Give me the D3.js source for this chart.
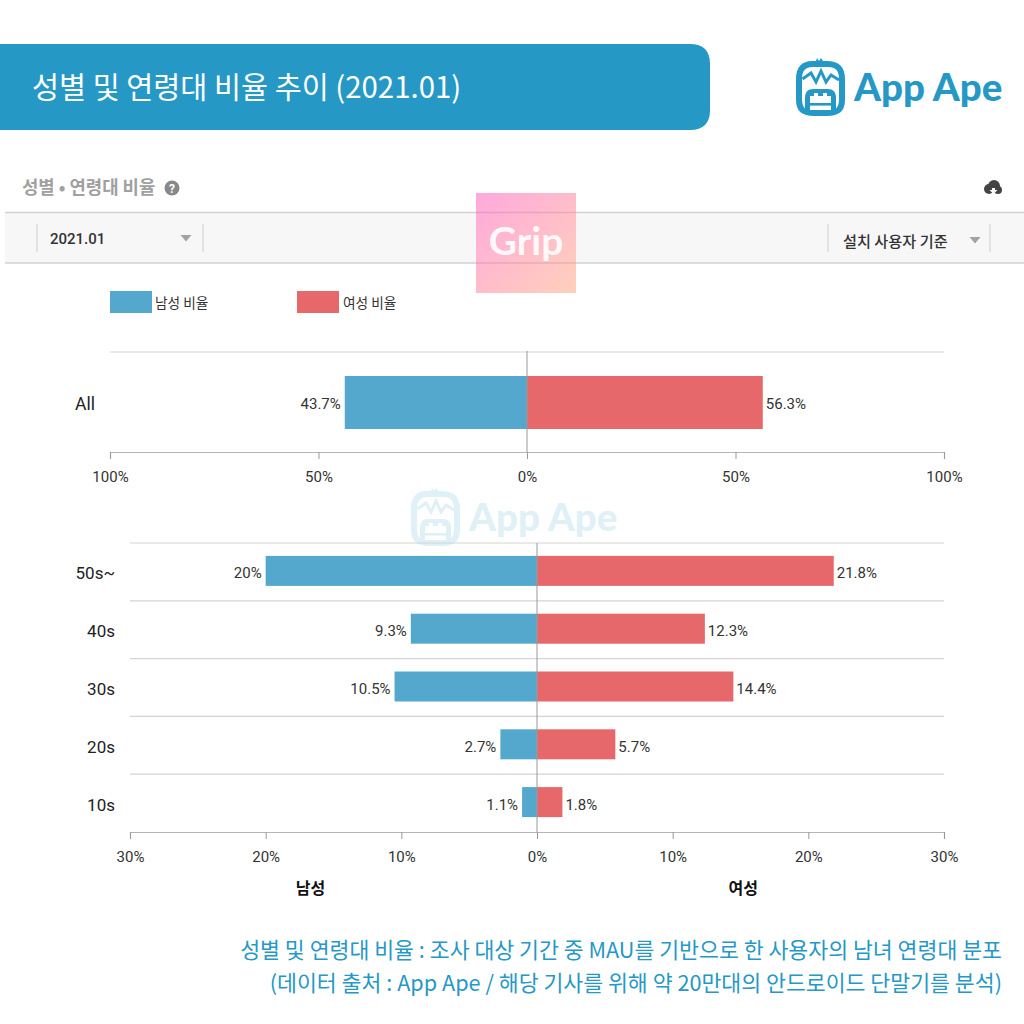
<!DOCTYPE html>
<html>
<head>
<meta charset="utf-8">
<script src="https://cdn.jsdelivr.net/npm/d3@7"></script>
<style>
html, body { margin: 0; padding: 0; background: #fff; }
svg { display: block; font-family: Roboto, "Noto Sans CJK KR", sans-serif; }
</style>
</head>
<body>
<svg id="chart" width="1024" height="1024"></svg>
<script>
const allGroups = ['All'];
const allMale = [43.7];
const allFemale = [56.3];
const allTicks = [-100, -50, 0, 50, 100];

const ageGroups = ['50s~', '40s', '30s', '20s', '10s'];
const ageMale = [20, 9.3, 10.5, 2.7, 1.1];
const ageFemale = [21.8, 12.3, 14.4, 5.7, 1.8];
const ageTicks = [-30, -20, -10, 0, 10, 20, 30];

const legendLabels = ['남성 비율', '여성 비율'];
const footnotes = [
    '성별 및 연령대 비율 : 조사 대상 기간 중 MAU를 기반으로 한 사용자의 남녀 연령대 분포',
    '(데이터 출처 : App Ape / 해당 기사를 위해 약 20만대의 안드로이드 단말기를 분석)'
];

const BLUE = '#55a8cd';
const RED = '#e7686b';
const BRAND = '#2598c6';
const KR = '"Noto Sans CJK KR", sans-serif';

const svg = d3.select('#chart');

const logo = (x, y, s, opacity) => {
    const g = svg.append('g')
        .attr('transform', `translate(${x},${y}) scale(${s})`)
        .attr('opacity', opacity);
    g.append('path')
        .attr('d', 'M16,3 L20,3 L21,0 L23,3 L25,0 L27,3 L31,3 C43,3 49,9 49,21 L49,42 C49,53 43,58 31,58 L18,58 C6,58 0,53 0,42 L0,21 C0,9 6,3 16,3 Z')
        .attr('fill', BRAND);
    g.append('path')
        .attr('d', 'M17,9 L32,9 C40,9 43,13 43,21 L43,41 C43,49 40,53 32,53 L17,53 C9,53 6,49 6,41 L6,21 C6,13 9,9 17,9 Z')
        .attr('fill', '#fff');
    g.append('path')
        .attr('d', 'M6.5,21 L15,15 L20,24 L25,13 L30,24 L35,17 L43,22')
        .attr('fill', 'none').attr('stroke', BRAND).attr('stroke-width', 3);
    g.append('path')
        .attr('d', 'M9,53 L9,40 C9,34 12,31 17,31 L32,31 C37,31 40,34 40,40 L40,53 Z')
        .attr('fill', BRAND);
    g.append('path')
        .attr('d', 'M14,52 L14,38 L18,38 L18,35 L22,35 L22,38 L27,38 L27,35 L31,35 L31,38 L35,38 L35,52 Z')
        .attr('fill', '#fff');
    g.append('rect').attr('x', 14).attr('y', 45).attr('width', 21).attr('height', 2.6).attr('fill', BRAND);
    g.append('text')
        .attr('x', 58).attr('y', 43)
        .attr('font-family', 'Lato, Roboto, sans-serif')
        .attr('font-weight', 900)
        .attr('font-size', 38.5)
        .attr('fill', BRAND)
        .text('App Ape');
};

// header banner
svg.append('path')
    .attr('d', 'M0,44 H690 Q710,44 710,64 V110 Q710,130 690,130 H0 Z')
    .attr('fill', '#2598c6');
svg.append('text')
    .attr('x', 32).attr('y', 97.5)
    .attr('font-family', KR)
    .attr('font-size', 29.4)
    .attr('fill', '#fff')
    .text('성별 및 연령대 비율 추이 (2021.01)');
logo(796, 58, 1, 1);

// panel header
svg.append('text')
    .attr('x', 22).attr('y', 194)
    .attr('font-family', KR).attr('font-size', 17.8).attr('font-weight', 700)
    .attr('fill', '#a0a0a0')
    .text('성별 • 연령대 비율');
svg.append('circle').attr('cx', 172).attr('cy', 188).attr('r', 7.5).attr('fill', '#888');
svg.append('text')
    .attr('x', 172).attr('y', 192.5).attr('text-anchor', 'middle')
    .attr('font-size', 12).attr('font-weight', 700).attr('fill', '#fff')
    .text('?');

// download icon
const dl = svg.append('g').attr('transform', 'translate(993,188)').attr('fill', '#444');
dl.append('circle').attr('cx', -4).attr('cy', 1).attr('r', 5);
dl.append('circle').attr('cx', 1).attr('cy', -2).attr('r', 6);
dl.append('circle').attr('cx', 5).attr('cy', 2).attr('r', 4);
dl.append('path').attr('d', 'M-1,0 H2 V2 H4.5 L0.5,6 L-3.5,2 H-1 Z').attr('fill', '#fff');

// toolbar
svg.append('rect').attr('x', 5).attr('y', 213).attr('width', 1019).attr('height', 50).attr('fill', '#f7f7f7');
[212.5, 263].forEach(y => {
    svg.append('line').attr('x1', 5).attr('x2', 1024).attr('y1', y).attr('y2', y)
        .attr('stroke', '#d2d2d2').attr('stroke-width', 1.4);
});
[37, 203, 828, 990].forEach(x => {
    svg.append('line').attr('x1', x).attr('x2', x).attr('y1', 224).attr('y2', 252)
        .attr('stroke', '#cfcfcf');
});
svg.append('text')
    .attr('x', 50).attr('y', 243.5)
    .attr('font-size', 15).attr('font-weight', 500).attr('fill', '#333')
    .text('2021.01');
svg.append('text')
    .attr('x', 843).attr('y', 246.5)
    .attr('font-family', KR).attr('font-size', 15.2).attr('font-weight', 500).attr('fill', '#333')
    .text('설치 사용자 기준');
[[186, 238], [975, 240]].forEach(([x, y]) => {
    svg.append('path')
        .attr('d', `M${x - 5.5},${y - 3} H${x + 5.5} L${x},${y + 3.5} Z`)
        .attr('fill', '#a3a3a3');
});

// Grip badge
const defs = svg.append('defs');
const grad = defs.append('linearGradient')
    .attr('id', 'gripGrad')
    .attr('x1', '0%').attr('y1', '0%').attr('x2', '100%').attr('y2', '100%');
grad.append('stop').attr('offset', '0%').attr('stop-color', '#ffa9dc');
grad.append('stop').attr('offset', '100%').attr('stop-color', '#ffd0bb');
svg.append('rect')
    .attr('x', 476).attr('y', 193).attr('width', 100).attr('height', 100)
    .attr('fill', 'url(#gripGrad)');
[212.5, 263].forEach(y => {
    svg.append('line').attr('x1', 476).attr('x2', 576).attr('y1', y).attr('y2', y)
        .attr('stroke', '#000').attr('stroke-opacity', 0.1).attr('stroke-width', 1.4);
});
svg.append('text')
    .attr('x', 526).attr('y', 255).attr('text-anchor', 'middle')
    .attr('font-family', 'Lato, sans-serif').attr('font-weight', 700)
    .attr('font-size', 39).attr('fill', '#fff').attr('fill-opacity', 0.92)
    .text('Grip');

// legend
[[110, BLUE, 155], [297, RED, 343]].forEach(([x, color, tx], i) => {
    svg.append('rect').attr('x', x).attr('y', 291).attr('width', 42).attr('height', 22).attr('fill', color);
    svg.append('text')
        .attr('x', tx).attr('y', 307.5)
        .attr('font-family', KR).attr('font-size', 13.7).attr('fill', '#333')
        .text(legendLabels[i]);
});

// watermark
logo(411, 488, 1, 0.14);

const pyramid = (cfg) => {
    const { groups, male, female, ticks, x0, x1, rows, barH, zeroExtent, labelSize } = cfg;
    const x = d3.scaleLinear().domain(cfg.domain).range([x0, x1]);
    const y = d3.scaleBand().domain(groups).range(rows);
    const g = svg.append('g');

    // row separators
    const seps = groups.slice(0, -1).map(d => y(d) + y.step()).concat(rows[0]);
    g.selectAll('line.sep').data(seps).enter().append('line')
        .attr('class', 'sep')
        .attr('x1', x0).attr('x2', x1)
        .attr('y1', d => d).attr('y2', d => d)
        .attr('stroke', '#d4d4d4').attr('stroke-width', 1.2);

    const barY = d => y(d) + (y.step() - barH) / 2 + (cfg.barDy || 0);
    g.selectAll('rect.male').data(groups).enter().append('rect')
        .attr('class', 'male')
        .attr('x', (d, i) => x(-male[i]))
        .attr('y', barY)
        .attr('width', (d, i) => x(0) - x(-male[i]))
        .attr('height', barH)
        .attr('fill', BLUE);
    g.selectAll('rect.female').data(groups).enter().append('rect')
        .attr('class', 'female')
        .attr('x', x(0))
        .attr('y', barY)
        .attr('width', (d, i) => x(female[i]) - x(0) + 1)
        .attr('height', barH)
        .attr('fill', RED);

    // zero line
    g.append('line')
        .attr('x1', x(0)).attr('x2', x(0))
        .attr('y1', zeroExtent[0]).attr('y2', rows[1])
        .attr('stroke', '#999').attr('stroke-width', 1);

    // value labels
    const valueY = d => y(d) + y.step() / 2 + 6.5;
    g.selectAll('text.mv').data(groups).enter().append('text')
        .attr('class', 'mv')
        .attr('x', (d, i) => x(-male[i]) - 4)
        .attr('y', valueY)
        .attr('text-anchor', 'end')
        .attr('font-size', 15).attr('fill', '#333')
        .text((d, i) => male[i] + '%');
    g.selectAll('text.fv').data(groups).enter().append('text')
        .attr('class', 'fv')
        .attr('x', (d, i) => x(female[i]) + 4)
        .attr('y', valueY)
        .attr('font-size', 15).attr('fill', '#333')
        .text((d, i) => female[i] + '%');

    // category labels
    g.selectAll('text.cat').data(groups).enter().append('text')
        .attr('class', 'cat')
        .attr('x', cfg.labelX)
        .attr('y', d => y(d) + y.step() / 2 + 7.5)
        .attr('text-anchor', 'end')
        .attr('font-size', labelSize).attr('fill', '#222')
        .text(d => d);

    // x axis
    const axis = d3.axisBottom(x)
        .tickValues(ticks)
        .tickSize(7)
        .tickPadding(12.5)
        .tickFormat(d => Math.abs(d) + '%');
    const ax = svg.append('g')
        .attr('transform', `translate(0,${rows[1]})`)
        .call(axis);
    ax.select('.domain').attr('stroke', '#b5b5b5').attr('stroke-width', 1.2);
    ax.selectAll('.tick line').attr('stroke', '#999');
    ax.selectAll('.tick text')
        .attr('font-family', 'Roboto, sans-serif')
        .attr('font-size', 15)
        .attr('fill', '#333');
    return x;
};

pyramid({
    groups: allGroups, male: allMale, female: allFemale, ticks: allTicks,
    domain: [-100, 100], x0: 110, x1: 944, rows: [352, 452], barH: 53, barDy: 0.5,
    zeroExtent: [351, 452], labelX: 95, labelSize: 17.5
});

const xAge = pyramid({
    groups: ageGroups, male: ageMale, female: ageFemale, ticks: ageTicks,
    domain: [-30, 30], x0: 130, x1: 944, rows: [543, 832], barH: 30, barDy: -1,
    zeroExtent: [543, 832], labelX: 115, labelSize: 17
});

// side captions
[[-16.7, '남성'], [15.2, '여성']].forEach(([v, t]) => {
    svg.append('text')
        .attr('x', xAge(v)).attr('y', 894)
        .attr('text-anchor', 'middle')
        .attr('font-family', KR).attr('font-size', 16).attr('font-weight', 700).attr('fill', '#111')
        .text(t);
});

// footnotes
footnotes.forEach((t, i) => {
    svg.append('text')
        .attr('x', 1002).attr('y', 958 + i * 33)
        .attr('text-anchor', 'end')
        .attr('font-family', KR).attr('font-size', 21.65).attr('fill', '#2598c6')
        .text(t);
});
</script>
</body>
</html>
